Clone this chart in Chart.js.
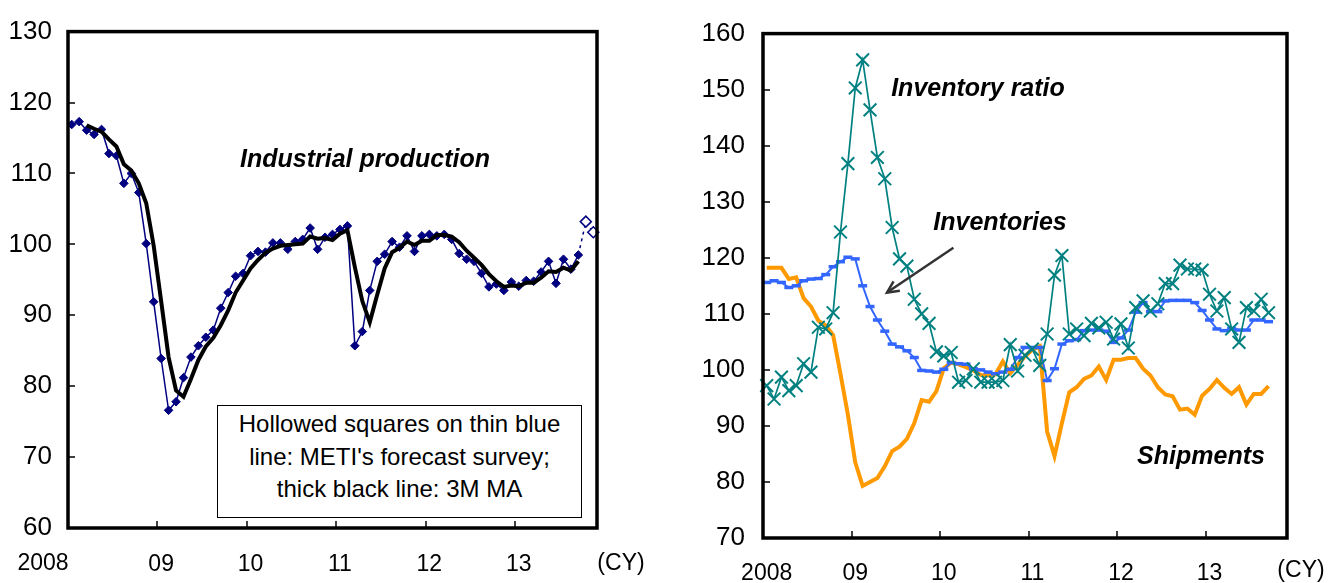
<!DOCTYPE html>
<html>
<head>
<meta charset="utf-8">
<script src="https://cdn.jsdelivr.net/npm/chart.js@4.4.0/dist/chart.umd.min.js"></script>
<style>
  body { margin: 0; background: #fff; }
  #wrap { position: relative; width: 1328px; height: 583px; font-family: "Liberation Sans", Arial, sans-serif; color: #000; }
  canvas { position: absolute; top: 0; }
  #ipChart { left: 0; }
  #invChart { left: 664px; }
  .note { position: absolute; transform: translate(-50%, -50%); font-weight: bold; font-style: italic; font-size: 25px; white-space: nowrap; }
  #noteBox { position: absolute; left: 217px; top: 405px; width: 365px; height: 113px; box-sizing: border-box;
             border: 1.5px solid #000; background: #fff; text-align: center; font-size: 24px; line-height: 32.5px; padding-top: 2px; }
</style>
</head>
<body>
<div id="wrap">
  <canvas id="ipChart" width="664" height="583"></canvas>
  <canvas id="invChart" width="664" height="583"></canvas>
  <div class="note" style="left:365px; top:158px;">Industrial production</div>
  <div id="noteBox">Hollowed squares on thin blue<br>line: METI's forecast survey;<br>thick black line: 3M MA</div>
  <div class="note" style="left:978px; top:87px;">Inventory ratio</div>
  <div class="note" style="left:1000px; top:221px;">Inventories</div>
  <div class="note" style="left:1201px; top:455px;">Shipments</div>
</div>
<script>
// Monthly categories, Jan 2008 .. Nov 2013
const months = [];
for (let y = 2008; y <= 2013; y++) {
  for (let m = 1; m <= 12; m++) {
    if (months.length < 71) months.push(y + '-' + String(m).padStart(2, '0'));
  }
}
const yearLabels = ['2008', '09', '10', '11', '12', '13'];

// Left panel: industrial production (Jan 2008 .. Sep 2013)
const industrialProduction = [
  116.9, 117.3, 116.1, 115.5, 116.2, 112.8, 112.5, 108.6, 110.0, 107.3,
  100.1, 91.9, 83.9, 76.6, 77.8, 81.2, 84.1, 85.7, 86.9, 87.9,
  91.0, 93.2, 95.5, 95.9, 98.4, 99.0, 98.9, 100.2, 100.2, 99.3,
  100.4, 100.7, 102.3, 99.3, 101.0, 101.4, 102.1, 102.6, 85.7, 87.7,
  93.5, 97.6, 98.6, 100.4, 99.6, 101.2, 99.0, 101.2, 101.4, 101.2,
  101.4, 100.7, 98.7, 97.9, 97.6, 95.9, 94.0, 94.4, 93.5, 94.7,
  94.1, 94.9, 94.8, 96.1, 97.6, 94.5, 97.9, 96.5, 98.5
];
// 3M moving average line, from Mar 2008
const ipMovingAvg = [
  116.8, 116.3, 115.9, 114.8, 113.8, 111.3, 110.4, 108.6, 105.8, 99.8,
  92.0, 84.1, 79.4, 78.5, 81.0, 83.7, 85.6, 86.8, 88.6, 90.7,
  93.2, 94.9, 96.6, 97.8, 98.8, 99.4, 99.8, 99.9, 100.0, 100.1,
  101.1, 100.8, 100.9, 100.6, 101.5, 102.0, 96.8, 92.0, 89.0, 92.9,
  96.6, 98.9, 99.5, 100.4, 99.9, 100.5, 100.5, 101.3, 101.3, 101.1,
  100.3, 99.1, 98.1, 97.1, 95.8, 94.8, 94.0, 94.2, 94.1, 94.6,
  94.6, 95.3, 96.2, 96.1, 96.7, 96.3, 97.6
];
// METI forecast survey, Oct and Nov 2013
const forecastSurvey = [103.2, 101.7];

// Right panel (Jan 2008 .. Sep 2013)
const shipments = [
  118.2, 118.2, 118.2, 116.2, 116.5, 112.8, 111.3, 108.8, 107.9, 106.2,
  99.3, 92.0, 83.5, 79.3, 80.0, 80.7, 82.8, 85.5, 86.3, 87.7,
  90.5, 94.6, 94.3, 96.2, 100.3, 101.3, 101.0, 100.5, 99.9, 99.1,
  99.0, 99.2, 101.5, 99.4, 100.9, 102.4, 103.6, 104.2, 89.0, 84.6,
  90.5, 96.0, 96.9, 98.4, 99.0, 100.6, 98.2, 101.8, 101.8, 102.1,
  102.1, 100.2, 99.0, 96.9, 95.6, 95.3, 92.9, 93.1, 92.0, 95.4,
  96.6, 98.2, 96.8, 95.7, 96.9, 93.8, 95.7, 95.7, 97.1
];
const inventories = [
  115.6, 115.9, 115.6, 114.7, 115.0, 115.9, 116.2, 116.3, 117.0, 118.4,
  119.3, 120.1, 119.8, 115.0, 111.3, 108.9, 106.9, 104.6, 104.1, 103.4,
  102.2, 99.9, 99.8, 99.6, 100.1, 101.3, 101.1, 101.0, 100.2, 100.0,
  99.6, 99.3, 99.6, 100.1, 102.2, 104.0, 104.0, 104.0, 98.1, 100.2,
  104.6, 105.2, 105.4, 107.0, 107.1, 107.1, 106.9, 104.9, 105.7, 107.1,
  110.3, 112.0, 110.4, 110.4, 112.3, 112.4, 112.4, 112.4, 112.0, 110.6,
  108.9, 107.3, 107.0, 107.4, 107.1, 107.1, 108.9, 108.9, 108.6
];
const inventoryRatio = [
  97.2, 94.8, 98.7, 96.3, 97.2, 101.1, 99.6, 107.6, 107.3, 110.2,
  124.6, 136.8, 150.3, 155.3, 146.4, 137.9, 134.1, 125.4, 119.8, 118.5,
  112.6, 110.0, 108.3, 103.2, 102.5, 103.1, 97.8, 98.1, 100.2, 97.8,
  97.8, 97.8, 98.1, 104.5, 99.8, 102.6, 103.7, 100.8, 106.4, 116.9,
  120.4, 106.4, 107.3, 106.1, 108.3, 107.5, 108.5, 105.5, 108.2, 103.9,
  111.1, 112.3, 110.5, 111.8, 115.4, 115.4, 118.7, 118.0, 118.0, 117.8,
  113.5, 110.5, 112.9, 107.3, 104.9, 111.1, 110.5, 112.6, 110.2
];

Chart.defaults.font.family = '"Liberation Sans", Arial, sans-serif';
Chart.defaults.color = '#000';

const TICK_FONT = '23px "Liberation Sans", Arial, sans-serif';

function padTo(arr, start) {
  const out = new Array(months.length).fill(null);
  arr.forEach((v, i) => { out[start + i] = v; });
  return out;
}

// Frame, inside tick marks, "(CY)", a shifted first year label and optional arrow
const framePlugin = {
  id: 'frame',
  afterDatasetsDraw(chart, args, opts) {
    const { ctx, chartArea: a, scales } = chart;
    ctx.save();
    ctx.strokeStyle = '#000';
    ctx.lineWidth = 1.5;
    scales.y.ticks.forEach(t => {
      const y = Math.round(scales.y.getPixelForValue(t.value));
      ctx.beginPath(); ctx.moveTo(a.left, y); ctx.lineTo(a.left + 7, y); ctx.stroke();
    });
    for (let i = 12; i < months.length; i += 12) {
      const x = Math.round(scales.x.getPixelForValue(i - 0.5));
      ctx.beginPath(); ctx.moveTo(x, a.bottom); ctx.lineTo(x, a.bottom - 7); ctx.stroke();
    }
    ctx.lineWidth = 3.5;
    ctx.strokeRect(a.left, a.top, a.right - a.left, a.bottom - a.top);

    ctx.fillStyle = '#000';
    ctx.font = TICK_FONT;
    ctx.textAlign = 'center';
    ctx.textBaseline = 'middle';
    ctx.fillText('(CY)', a.right + opts.cyDx, opts.cyY);
    if (opts.firstLabelX !== undefined) {
      ctx.fillText(yearLabels[0], opts.firstLabelX, opts.cyY);
    }

    if (opts.arrow) {
      const [m0, v0] = opts.arrow.from, [m1, v1] = opts.arrow.to;
      const x0 = scales.x.getPixelForValue(m0), y0 = scales.y.getPixelForValue(v0);
      const x1 = scales.x.getPixelForValue(m1), y1 = scales.y.getPixelForValue(v1);
      const ang = Math.atan2(y1 - y0, x1 - x0);
      ctx.strokeStyle = '#333';
      ctx.lineWidth = 2.5;
      ctx.beginPath(); ctx.moveTo(x0, y0); ctx.lineTo(x1, y1); ctx.stroke();
      ctx.beginPath();
      ctx.moveTo(x1 - 13 * Math.cos(ang - 0.45), y1 - 13 * Math.sin(ang - 0.45));
      ctx.lineTo(x1, y1);
      ctx.lineTo(x1 - 13 * Math.cos(ang + 0.45), y1 - 13 * Math.sin(ang + 0.45));
      ctx.stroke();
    }
    ctx.restore();
  }
};

function baseScales(yMin, yMax, yWidth, xHeight, yPad, xPad, skipFirst) {
  return {
    x: {
      type: 'category',
      offset: true,
      grid: { display: false, drawTicks: false },
      border: { display: false },
      afterFit: s => { s.height = xHeight; },
      ticks: {
        autoSkip: false, maxRotation: 0, padding: xPad,
        font: { size: 23 },
        callback: (val, i) => {
          if (i % 12 !== 0 || (skipFirst && i === 0)) return '';
          return yearLabels[i / 12];
        }
      }
    },
    y: {
      min: yMin, max: yMax,
      grid: { display: false, drawTicks: false },
      border: { display: false },
      afterFit: s => { s.width = yWidth; },
      ticks: { stepSize: 10, padding: yPad, font: { size: 26 } }
    }
  };
}

const common = {
  responsive: false,
  animation: false,
  events: [],
  plugins: { legend: { display: false }, tooltip: { enabled: false } }
};

// Left chart
const forecastLine = new Array(months.length).fill(null);
forecastLine[industrialProduction.length - 1] = industrialProduction[industrialProduction.length - 1];
forecastSurvey.forEach((v, i) => { forecastLine[industrialProduction.length + i] = v; });

new Chart(document.getElementById('ipChart'), {
  type: 'line',
  data: {
    labels: months,
    datasets: [{
      label: '3M MA',
      data: padTo(ipMovingAvg, 2),
      borderColor: '#000',
      borderWidth: 4,
      pointRadius: 0,
      order: 0,
      clip: false
    }, {
      label: 'Industrial production',
      data: padTo(industrialProduction, 0),
      borderColor: '#000080',
      borderWidth: 1.5,
      pointStyle: 'rectRot',
      pointRadius: 4.3,
      pointBackgroundColor: '#000080',
      pointBorderColor: '#000080',
      pointBorderWidth: 1,
      order: 1,
      clip: false
    }, {
      label: 'METI forecast survey',
      data: forecastLine,
      borderColor: '#000080',
      borderWidth: 1.5,
      borderDash: [3, 4],
      pointStyle: 'rectRot',
      pointRadius: c => (c.dataIndex === industrialProduction.length - 1 ? 0 : 5.5),
      pointBackgroundColor: '#fff',
      pointBorderColor: '#000080',
      pointBorderWidth: 1.5,
      order: 2,
      clip: false
    }]
  },
  options: {
    ...common,
    layout: { padding: { left: 0, right: 67, top: 27, bottom: 0 } },
    scales: baseScales(60, 130, 68, 55, 16, 23, true),
    plugins: { ...common.plugins, frame: { cyDx: 24, cyY: 564, firstLabelX: 43 } }
  },
  plugins: [framePlugin]
});

// Right chart
new Chart(document.getElementById('invChart'), {
  type: 'line',
  data: {
    labels: months,
    datasets: [{
      label: 'Inventory ratio',
      data: padTo(inventoryRatio, 0),
      borderColor: '#008080',
      borderWidth: 1.7,
      pointStyle: 'crossRot',
      pointRadius: 9,
      pointBorderColor: '#008080',
      pointBorderWidth: 2,
      order: 0,
      clip: false
    }, {
      label: 'Inventories',
      data: padTo(inventories, 0),
      borderColor: '#3366FF',
      borderWidth: 2,
      pointStyle: 'line',
      pointRadius: 4.5,
      pointBorderColor: '#3366FF',
      pointBorderWidth: 3.5,
      order: 1,
      clip: false
    }, {
      label: 'Shipments',
      data: padTo(shipments, 0),
      borderColor: '#FF9900',
      borderWidth: 4,
      pointRadius: 0,
      order: 2,
      clip: false
    }]
  },
  options: {
    ...common,
    layout: { padding: { left: 0, right: 41, top: 32, bottom: 0 } },
    scales: baseScales(70, 160, 99, 45, 18, 22, false),
    plugins: { ...common.plugins, frame: { cyDx: 14, cyY: 571, arrow: { from: [25.3, 121.8], to: [16.3, 113.8] } } }
  },
  plugins: [framePlugin]
});
</script>
</body>
</html>
